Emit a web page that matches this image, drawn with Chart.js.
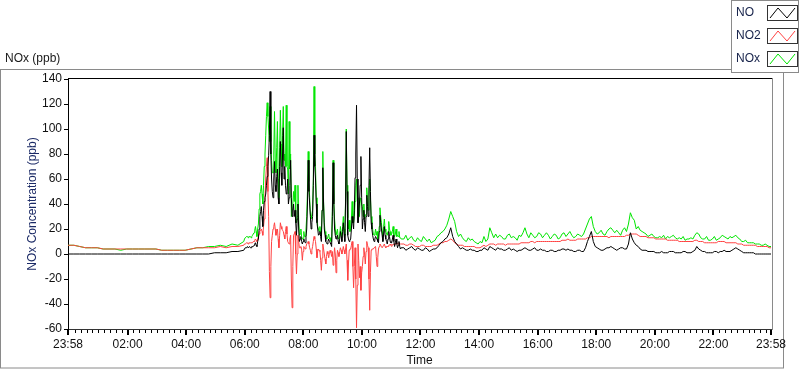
<!DOCTYPE html>
<html>
<head>
<meta charset="utf-8">
<script src="https://cdn.jsdelivr.net/npm/chart.js@4.4.0/dist/chart.umd.min.js"></script>
<style>
html, body { margin: 0; padding: 0; background: #fff; }
</style>
</head>
<body>
<canvas id="noxCanvas" width="800" height="369"></canvas>
<script>
// sampling blocks (minutes after 23:58)
const timeBlocks = [
    { start: 0, step: 12, count: 30 },
    { start: 360, step: 1.5, count: 216 },
    { start: 688, step: 4, count: 189 }
];

const seriesLabels = ['NO', 'NO2', 'NOx'];
const seriesColors = ['#000000', '#ff4242', '#00e600'];

const noValues = [
    // night
    0, 0, 0, 0, 0, 0, 0, 0, 0, 0, 0, 0, 0, 0, 0, 0, 0, 0, 0, 0, 0, 0, 0, 0, 0, 1, 1, 1, 2, 2,
    // morning peaks
    3, 4, 5, 5, 5, 6, 5, 5, 6, 5, 5, 6, 6, 6, 7, 8, 9, 7, 6, 10,
    12, 20, 30, 34, 38, 30, 22, 35, 42, 45, 48, 55, 62, 70, 79, 95, 130, 80, 60, 50,
    45, 60, 74, 55, 50, 62, 68, 45, 40, 70, 90, 65, 55, 80, 101, 60, 70, 55, 48, 50,
    60, 40, 45, 55, 75, 45, 30, 35, 40, 30, 35, 25, 15, 28, 40, 20, 10, 12, 14, 10,
    8, 10, 12, 10, 9, 14, 20, 40, 75, 50, 40, 30, 20, 25, 30, 55, 95, 70, 60, 40,
    25, 20, 15, 16, 18, 14, 10, 35, 69, 40, 20, 15, 10, 9, 8, 10, 12, 10, 9, 8,
    6, 30, 73, 40, 20, 15, 12, 14, 15, 10, 8, 12, 18, 14, 10, 18, 25, 16, 10, 40,
    98, 50, 15, 12, 10, 11, 12, 20, 30, 25, 20, 35, 61, 80, 119, 60, 25, 30, 40, 55,
    78, 45, 20, 28, 35, 25, 18, 30, 47, 38, 30, 55, 85, 50, 25, 20, 15, 12, 10, 12,
    14, 13, 12, 10, 9, 18, 31, 25, 20, 15, 10, 16, 22, 15, 12, 10, 8, 12, 18, 14,
    10, 9, 9, 12, 15, 10, 6, 9, 12, 8, 5, 7, 10, 6, 4, 5,
    // afternoon / evening
    5, 3, 4, 5, 6, 4, 3, 5, 4, 3, 3, 5, 4, 2, 3, 4, 4, 5, 7, 9,
    10, 12, 13, 16, 21, 14, 10, 8, 6, 4, 5, 4, 3, 3, 4, 3, 3, 2, 2, 3,
    3, 5, 4, 3, 6, 5, 4, 3, 5, 4, 4, 3, 3, 4, 5, 3, 4, 3, 2, 3,
    3, 4, 5, 4, 3, 3, 4, 5, 3, 3, 4, 3, 3, 2, 2, 3, 3, 2, 2, 3,
    3, 4, 4, 3, 4, 3, 3, 2, 2, 3, 3, 2, 2, 5, 10, 14, 18, 10, 6, 5,
    4, 3, 3, 4, 5, 5, 6, 5, 4, 3, 4, 5, 5, 4, 4, 8, 17, 12, 9, 7,
    6, 4, 3, 3, 3, 2, 2, 2, 2, 1, 1, 1, 2, 1, 1, 1, 2, 2, 2, 1,
    1, 1, 1, 2, 2, 1, 1, 1, 2, 3, 6, 4, 3, 2, 2, 1, 1, 1, 1, 2,
    2, 1, 2, 2, 3, 2, 2, 2, 3, 4, 5, 4, 3, 2, 1, 1, 1, 1, 1, 1,
    0, 0, 0, 0, 0, 0, 0, 0, 0
];

const no2Values = [
    7, 7, 6, 5, 5, 5, 4, 4, 4, 4, 4, 4, 4, 4, 4, 4, 3, 3, 3, 3, 3, 4, 5, 5, 5, 5, 6, 5, 6, 6,
    7, 8, 8, 8, 9, 9, 8, 9, 9, 9, 9, 9, 9, 10, 10, 11, 12, 11, 10, 12,
    14, 16, 18, 19, 20, 18, 15, 22, 28, 45, 60, 70, 77, 50, 30, -14, -35, -10, 10, 15,
    20, 22, 25, 20, 15, 18, 20, 12, 5, 15, 25, 22, 20, 19, 18, 15, 12, 18, 22, 16,
    10, 9, 8, 12, 15, -20, -43, -10, 15, 16, 18, 0, -16, 0, 15, 10, 5, 5, 6, 4,
    -5, 2, 6, 5, 4, 6, 8, 9, 10, 8, 5, 3, 0, 3, 6, 10, 14, 12, 10, 4,
    -3, 2, 4, 3, 2, -5, -13, -3, 8, 4, 0, -4, -8, -2, 2, 0, -3, 1, 3, 1,
    -2, 2, -9, -4, 5, 0, -15, -5, 3, 1, -2, 2, 5, 3, 0, 3, 6, 3, 0, 4,
    8, -5, -21, -8, 3, 4, 4, 7, 10, -10, -27, -10, 5, -20, -59, -25, 8, -5, -19, -10,
    -29, -15, -10, -2, 5, 0, -8, 2, 10, 7, 5, -20, -45, -15, 3, 4, 4, 4, 5, 5,
    6, -2, -10, -3, 4, 6, 8, 7, 6, 5, 5, 7, 8, 6, 5, 6, 6, 6, 7, 7,
    8, 7, 6, 7, 8, 8, 7, 8, 9, 8, 8, 8, 9, 8, 8, 8,
    8, 7, 7, 8, 8, 7, 6, 6, 6, 7, 7, 6, 6, 6, 6, 7, 7, 7, 8, 9,
    9, 10, 10, 11, 12, 11, 9, 8, 7, 7, 7, 6, 6, 6, 6, 6, 6, 5, 5, 5,
    6, 7, 6, 7, 8, 8, 8, 7, 8, 8, 8, 8, 7, 8, 8, 8, 8, 8, 8, 8,
    9, 9, 9, 9, 9, 10, 10, 9, 10, 10, 10, 10, 10, 10, 10, 10, 10, 10, 10, 10,
    10, 11, 11, 11, 12, 11, 11, 11, 11, 12, 12, 12, 12, 12, 13, 13, 14, 14, 14, 14,
    14, 14, 14, 14, 14, 13, 14, 14, 14, 14, 14, 14, 14, 14, 15, 15, 16, 16, 16, 16,
    15, 14, 14, 14, 14, 13, 13, 13, 13, 12, 12, 12, 12, 12, 12, 11, 11, 11, 11, 11,
    11, 10, 10, 10, 10, 10, 10, 10, 10, 11, 11, 10, 10, 10, 9, 9, 9, 9, 9, 9,
    9, 10, 10, 10, 10, 9, 9, 9, 9, 9, 9, 8, 8, 8, 7, 7, 7, 7, 7, 7,
    7, 6, 6, 6, 6, 6, 6, 5, 5
];

const noxValues = [
    7, 7, 6, 5, 5, 5, 4, 4, 4, 3, 4, 4, 4, 4, 4, 4, 3, 3, 3, 3, 3, 4, 5, 5, 6, 6, 7, 6, 8, 7,
    10, 12, 13, 13, 14, 14, 13, 14, 14, 14, 13, 14, 15, 16, 17, 19, 22, 18, 14, 20,
    24, 36, 48, 50, 55, 48, 40, 55, 70, 80, 95, 110, 121, 110, 100, 90, 118, 90, 75, 65,
    65, 80, 114, 75, 65, 85, 106, 60, 45, 85, 115, 88, 70, 95, 118, 75, 80, 70, 119, 70,
    68, 48, 106, 68, 80, 30, 35, 40, 50, 42, 55, 28, 25, 30, 55, 28, 15, 16, 20, 14,
    12, 12, 18, 14, 14, 20, 30, 50, 82, 58, 45, 32, 28, 28, 35, 60, 134, 80, 70, 45,
    30, 22, 20, 18, 22, 16, 15, 35, 82, 42, 25, 18, 14, 12, 12, 12, 16, 12, 13, 10,
    10, 34, 75, 42, 28, 20, 15, 15, 20, 12, 12, 14, 22, 17, 14, 22, 30, 20, 15, 42,
    100, 55, 29, 20, 27, 18, 20, 28, 42, 25, 25, 30, 42, 55, 60, 45, 35, 30, 30, 45,
    45, 40, 38, 30, 40, 28, 30, 32, 53, 45, 35, 48, 60, 45, 30, 24, 20, 16, 15, 16,
    20, 15, 18, 12, 14, 22, 37, 30, 25, 18, 15, 22, 28, 20, 18, 16, 15, 18, 26, 20,
    18, 15, 16, 18, 22, 15, 14, 16, 20, 14, 15, 14, 18, 13, 13, 12,
    12, 15, 11, 13, 14, 11, 10, 13, 11, 10, 14, 12, 10, 12, 9, 10, 11, 14, 15, 17,
    18, 20, 23, 28, 34, 30, 26, 18, 14, 16, 13, 11, 10, 13, 11, 12, 10, 9, 8, 10,
    9, 14, 10, 12, 21, 17, 13, 16, 13, 15, 14, 12, 12, 15, 16, 13, 14, 13, 11, 15,
    14, 17, 21, 16, 13, 17, 15, 13, 14, 17, 16, 13, 15, 17, 15, 12, 14, 16, 15, 12,
    13, 16, 17, 14, 16, 18, 15, 13, 14, 16, 15, 14, 16, 20, 24, 28, 30, 22, 18, 16,
    17, 19, 16, 15, 18, 20, 21, 19, 17, 19, 17, 15, 19, 21, 18, 24, 33, 29, 27, 20,
    22, 19, 18, 17, 16, 14, 15, 16, 14, 13, 13, 14, 13, 15, 12, 14, 13, 14, 15, 13,
    12, 13, 12, 14, 11, 12, 12, 13, 12, 15, 17, 16, 13, 12, 12, 14, 11, 11, 12, 14,
    11, 12, 13, 15, 14, 13, 12, 14, 13, 14, 15, 13, 12, 10, 10, 11, 9, 9, 9, 9,
    8, 8, 8, 7, 7, 8, 7, 6, 6
];

const majorTimes = [0, 122, 242, 362, 482, 602, 722, 842, 962, 1082, 1202, 1322, 1440];
const majorLabels = ['23:58', '02:00', '04:00', '06:00', '08:00', '10:00', '12:00',
    '14:00', '16:00', '18:00', '20:00', '22:00', '23:58'];

const minutes = [];
timeBlocks.forEach(b => {
    for (let i = 0; i < b.count; i++) minutes.push(b.start + b.step * i);
});

const toPoints = vals => vals.map((v, i) => ({ x: minutes[i], y: v }));
const seriesValues = [noValues, no2Values, noxValues];

const uiFont = '"Liberation Sans", Arial, sans-serif';

const labviewFrame = {
    id: 'labviewFrame',
    beforeDraw(chart) {
        const ctx = chart.ctx;
        ctx.save();
        ctx.fillStyle = '#fff';
        ctx.fillRect(0, 0, chart.width, chart.height);
        ctx.strokeStyle = '#8a8a8a';
        ctx.lineWidth = 1;
        ctx.strokeRect(0.5, 69.5, 783, 298.5);
        ctx.fillStyle = '#1a1a1a';
        ctx.font = '12px ' + uiFont;
        ctx.textBaseline = 'middle';
        ctx.fillText('NOx (ppb)', 5, 59);
        ctx.restore();
    },
    afterDraw(chart) {
        const ctx = chart.ctx;
        const area = chart.chartArea;
        const xs = chart.scales.x;
        ctx.save();
        // plot frame
        ctx.strokeStyle = '#000';
        ctx.lineWidth = 1;
        ctx.beginPath();
        ctx.moveTo(area.left, area.top - 0.5);
        ctx.lineTo(area.right + 1, area.top - 0.5);
        ctx.stroke();
        ctx.strokeStyle = '#8a8a8a';
        ctx.beginPath();
        ctx.moveTo(area.right + 1.5, area.top - 1);
        ctx.lineTo(area.right + 1.5, area.bottom + 1);
        ctx.stroke();

        // time ticks: major every 2 h, minor every 12 min
        ctx.strokeStyle = '#000';
        const drawTick = (v, len, w) => {
            const px = Math.round(xs.getPixelForValue(v));
            const off = w === 2 ? 0 : 0.5;
            ctx.lineWidth = w;
            ctx.beginPath();
            ctx.moveTo(px + off, area.bottom + 1);
            ctx.lineTo(px + off, area.bottom + 1 + len);
            ctx.stroke();
        };
        for (let v = 14; v < 1440; v += 12) {
            if ((v - 2) % 120 !== 0) drawTick(v, 3, 1);
        }
        majorTimes.forEach(v => drawTick(v, 5, 2));

        // legend
        ctx.fillStyle = '#fff';
        ctx.fillRect(731, 0, 69, 73);
        ctx.strokeStyle = '#8a8a8a';
        ctx.lineWidth = 1;
        ctx.strokeRect(731.5, 0.5, 67, 72);
        ctx.font = '12px ' + uiFont;
        ctx.textBaseline = 'middle';
        chart.data.datasets.forEach((ds, i) => {
            const yc = 13 + i * 23;
            ctx.fillStyle = '#16224a';
            ctx.fillText(ds.label, 736, yc);
            ctx.strokeStyle = '#333';
            ctx.strokeRect(767.5, yc - 7.5, 30, 15);
            ctx.strokeStyle = ds.borderColor;
            ctx.beginPath();
            ctx.moveTo(770, yc + 5);
            ctx.lineTo(778, yc - 5);
            ctx.lineTo(787, yc + 5);
            ctx.lineTo(795, yc - 5);
            ctx.stroke();
        });
        ctx.restore();
    }
};

const noxChart = new Chart(document.getElementById('noxCanvas'), {
    type: 'line',
    data: {
        datasets: seriesLabels.map((label, i) => ({
            label: label,
            data: toPoints(seriesValues[i]),
            borderColor: seriesColors[i],
            borderWidth: 1,
            pointRadius: 0,
            tension: 0
        }))
    },
    options: {
        responsive: false,
        animation: false,
        layout: { padding: { top: 79, right: 29, left: 0, bottom: 0 } },
        plugins: {
            legend: { display: false },
            tooltip: { enabled: false }
        },
        scales: {
            x: {
                type: 'linear',
                min: 0,
                max: 1440,
                afterFit: s => { s.height = 40; },
                afterBuildTicks: s => { s.ticks = majorTimes.map(v => ({ value: v })); },
                grid: { drawOnChartArea: false, drawTicks: false },
                border: { color: '#333' },
                ticks: {
                    autoSkip: false,
                    maxRotation: 0,
                    padding: 8,
                    color: '#111',
                    font: { family: uiFont, size: 12 },
                    callback: v => majorLabels[majorTimes.indexOf(v)]
                },
                title: {
                    display: true,
                    text: 'Time',
                    color: '#111',
                    font: { family: uiFont, size: 12 },
                    padding: { top: 0, bottom: 1 }
                }
            },
            y: {
                min: -60,
                max: 140,
                afterFit: s => { s.width = 68; },
                grid: { drawOnChartArea: false, tickLength: 4, color: '#000' },
                border: { color: '#000' },
                ticks: {
                    stepSize: 20,
                    padding: 2,
                    color: '#111',
                    font: { family: uiFont, size: 12 }
                },
                title: {
                    display: true,
                    text: 'NOx Concentration (ppb)',
                    color: '#1b2a66',
                    font: { family: uiFont, size: 12 },
                    padding: { top: 25, bottom: 0 }
                }
            }
        }
    },
    plugins: [labviewFrame]
});
</script>
</body>
</html>
